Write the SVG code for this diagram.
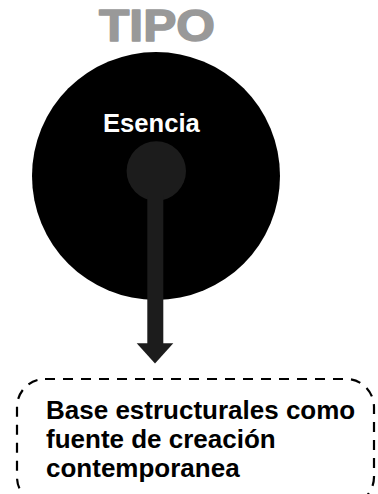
<svg xmlns="http://www.w3.org/2000/svg" width="378" height="494" viewBox="0 0 378 494">
<style>
.lbl{font-family:"Liberation Sans",Arial,sans-serif;font-weight:bold}
</style>
<rect width="378" height="494" fill="#ffffff"/>
<g id="title">
<text class="lbl" x="0" y="41" font-size="44" fill="#999999" stroke="#999999" stroke-width="1.5" stroke-linejoin="round" transform="translate(99,0) scale(1.13,1)">TIPO</text>
</g>
<g id="tipo-circle">
<circle cx="156" cy="176" r="124" fill="#000000"/>
<text class="lbl" x="103" y="132" font-size="25.6" fill="#ffffff">Esencia</text>
</g>
<g id="esencia-dot">
<circle cx="156.3" cy="171" r="29.7" fill="#1c1c1c"/>
</g>
<g id="connectors">
<rect x="147.3" y="195" width="16" height="149" fill="#1c1c1c"/>
<polygon points="136.7,343.3 173.3,343.3 155,363.5" fill="#1c1c1c"/>
</g>
<g id="base-node">
<rect x="17" y="379" width="357" height="126" rx="28" ry="28" fill="none" stroke="#000000" stroke-width="2.2" stroke-dasharray="10,8"/>
<text class="lbl" x="46" y="419" font-size="26" fill="#000000">Base estructurales como</text>
<text class="lbl" x="46" y="448" font-size="26" fill="#000000">fuente de creación</text>
<text class="lbl" x="46" y="477" font-size="26" fill="#000000">contemporanea</text>
</g>
</svg>
